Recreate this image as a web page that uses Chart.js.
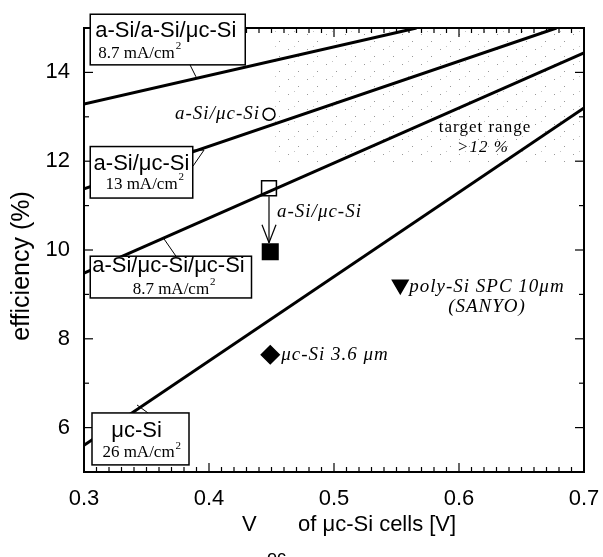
<!DOCTYPE html>
<html lang="en">
<head>
<meta charset="UTF-8">
<title>efficiency vs Voc</title>
<script src="https://cdn.jsdelivr.net/npm/chart.js"></script>
<style>
  html,body{margin:0;padding:0;background:#fff;}
</style>
</head>
<body>
<canvas id="effChart" width="603" height="557"></canvas>
<script>
// tick labels
const xTicks=[0.3,0.4,0.5,0.6,0.7];
const yTicks=[6,8,10,12,14];

// lines of constant current (end points)
const tripleAAX=[0.3,0.566];
const tripleAAY=[13.29,15.0];
const tandemX=[0.3,0.678];
const tandemY=[11.38,15.0];
const tripleAMX=[0.3,0.7];
const tripleAMY=[9.48,14.44];
const singleX=[0.3,0.7];
const singleY=[5.6,13.2];
const lineNames=['a-Si/a-Si/μc-Si','a-Si/μc-Si','a-Si/μc-Si/μc-Si','μc-Si'];
const lineCurrents=['8.7 mA/cm','13 mA/cm','8.7 mA/cm','26 mA/cm'];

// measured cells
const cellNames=['a-Si/μc-Si','a-Si/μc-Si (initial)','a-Si/μc-Si','μc-Si 3.6 μm','poly-Si SPC 10μm'];
const cellVoc=[0.448,0.448,0.449,0.449,0.553];
const cellEff=[13.06,11.39,9.96,7.64,9.22];

const SANS="'Liberation Sans', Arial, sans-serif";
const SERIF="'Liberation Serif', 'Times New Roman', serif";

function pts(xs,ys){return xs.map((v,i)=>({x:v,y:ys[i]}));}

function lineSet(label,xs,ys){
  return {label,data:pts(xs,ys),showLine:true,borderColor:'#000',borderWidth:3,pointRadius:0,fill:false};
}
function cellSet(i,style){
  return Object.assign({label:cellNames[i],data:[{x:cellVoc[i],y:cellEff[i]}],borderColor:'#000',borderWidth:1.5},style);
}

let stipple=null;
function getStipple(ctx){
  if(stipple) return stipple;
  const c=document.createElement('canvas');c.width=19;c.height=15;
  const g=c.getContext('2d');g.fillStyle='#999';
  g.fillRect(3,4,1,1);g.fillRect(13,11,1,1);g.fillStyle='#c4c4c4';g.fillRect(9,1,1,1);
  stipple=ctx.createPattern(c,'repeat');
  return stipple;
}

const deco={
  id:'deco',
  beforeDatasetsDraw(chart){
    const {ctx,chartArea:a,scales:{x,y}}=chart;
    const l=x.getPixelForValue(0.45),b=y.getPixelForValue(11.9);
    ctx.save();
    ctx.fillStyle=getStipple(ctx);
    ctx.fillRect(l,a.top,a.right-l,b-a.top);
    ctx.restore();
  },
  afterDatasetsDraw(chart){
    const {ctx,chartArea:a,scales:{x,y}}=chart;
    const X=v=>x.getPixelForValue(v), Y=v=>y.getPixelForValue(v);
    ctx.save();
    ctx.strokeStyle='#000';ctx.fillStyle='#000';
    const seg=(x0,y0,x1,y1)=>{ctx.beginPath();ctx.moveTo(x0,y0);ctx.lineTo(x1,y1);ctx.stroke();};

    // frame with inward ticks
    ctx.lineWidth=2;
    ctx.strokeRect(a.left,a.top,a.right-a.left,a.bottom-a.top);
    ctx.lineWidth=1.2;
    for(let i=0;i<=40;i++){
      const px=X(0.3+i*0.01),L=i%10===0?9:5;
      seg(px,a.bottom,px,a.bottom-L);seg(px,a.top,px,a.top+L);
    }
    for(let v=5;v<=15;v++){
      const py=Y(v),L=v%2===0?9:5;
      seg(a.left,py,a.left+L,py);seg(a.right,py,a.right-L,py);
    }

    // arrow from initial to degraded state
    ctx.lineWidth=1.2;
    const ax=X(cellVoc[1]);
    seg(ax,Y(cellEff[1])+8,ax,Y(cellEff[2])-9);
    seg(ax-7,Y(cellEff[2])-27,ax,Y(cellEff[2])-9);
    seg(ax+7,Y(cellEff[2])-27,ax,Y(cellEff[2])-9);

    // labelled boxes on the lines
    const current=(txt,cx,cy,align)=>{
      ctx.font='17px '+SERIF;ctx.textBaseline='middle';
      const w=ctx.measureText(txt).width+6;
      let lx=align==='left'?cx:cx-w/2;
      ctx.textAlign='left';ctx.fillText(txt,lx,cy);
      ctx.font='11px '+SERIF;ctx.fillText('2',lx+w-5,cy-7);
    };
    const box=(x0,y0,x1,y1)=>{
      const l=X(x0),t=Y(y0),r=X(x1),b=Y(y1);
      ctx.fillStyle='#fff';ctx.fillRect(l,t,r-l,b-t);
      ctx.lineWidth=1.5;ctx.strokeRect(l,t,r-l,b-t);
      ctx.fillStyle='#000';
      return {l,t,r,b};
    };
    ctx.lineWidth=1;
    // pointers
    seg(X(0.3848),Y(14.17),X(0.3896),Y(13.90));
    ctx.beginPath();ctx.moveTo(X(0.3872),Y(12.25));ctx.lineTo(X(0.396),Y(12.25));ctx.lineTo(X(0.3872),Y(11.89));ctx.stroke();
    seg(X(0.364),Y(10.25),X(0.3736),Y(9.86));
    seg(X(0.3424),Y(6.51),X(0.3512),Y(6.33));

    let r=box(0.305,15.31,0.429,14.17);
    ctx.font='22px '+SANS;ctx.textBaseline='middle';ctx.textAlign='left';
    ctx.fillText(lineNames[0],r.l+5,r.t+17);
    current(lineCurrents[0],r.l+8,r.t+39,'left');

    r=box(0.305,12.33,0.387,11.17);
    ctx.font='22px '+SANS;ctx.textAlign='center';
    ctx.fillText(lineNames[1],(r.l+r.r)/2,r.t+17);
    current(lineCurrents[1],(r.l+r.r)/2+3,r.t+38,'center');

    r=box(0.305,9.86,0.434,8.92);
    ctx.font='22px '+SANS;ctx.textAlign='left';
    ctx.fillText(lineNames[2],r.l+2,r.t+10);
    current(lineCurrents[2],(r.l+r.r)/2+3,r.t+33,'center');

    r=box(0.3064,6.33,0.384,5.16);
    ctx.font='22px '+SANS;ctx.textAlign='center';
    ctx.fillText(lineNames[3],(r.l+r.r)/2-4,r.t+18);
    current(lineCurrents[3],(r.l+r.r)/2+1,r.t+40,'center');

    // annotations
    ctx.fillStyle='#000';ctx.textBaseline='middle';
    ctx.letterSpacing='1px';
    ctx.font='italic 19px '+SERIF;
    ctx.textAlign='right';
    ctx.fillText(cellNames[0],X(cellVoc[0])-9,Y(cellEff[0]));
    ctx.textAlign='left';
    ctx.fillText(cellNames[2],ax+8,Y(10.86));
    ctx.fillText(cellNames[3],X(cellVoc[3])+11,Y(cellEff[3]));
    ctx.fillText(cellNames[4],X(cellVoc[4])+9,Y(cellEff[4])+2);
    ctx.textAlign='center';
    ctx.fillText('(SANYO)',X(0.6224),Y(8.72));
    ctx.font='17px '+SERIF;
    ctx.fillText('target range',X(0.6208),Y(12.75));
    ctx.font='italic 17px '+SERIF;
    ctx.fillText('>12 %',X(0.6192),Y(12.30));
    ctx.letterSpacing='0px';

    // axis titles
    ctx.font='25px '+SANS;ctx.textAlign='center';
    ctx.save();ctx.translate(22,(a.top+a.bottom)/2+16);ctx.rotate(-Math.PI/2);
    ctx.fillText('efficiency (%)',0,0);ctx.restore();
    ctx.textAlign='left';ctx.textBaseline='alphabetic';
    ctx.font='22px '+SANS;
    ctx.fillText('V',242,531);
    ctx.font='18px '+SANS;
    ctx.fillText('oc',267,563);
    ctx.font='22px '+SANS;
    ctx.fillText('of μc-Si cells [V]',298,531);
    ctx.restore();
  }
};

new Chart(document.getElementById('effChart'),{
  type:'scatter',
  data:{datasets:[
    lineSet(lineNames[0],tripleAAX,tripleAAY),
    lineSet(lineNames[1],tandemX,tandemY),
    lineSet(lineNames[2],tripleAMX,tripleAMY),
    lineSet(lineNames[3],singleX,singleY),
    cellSet(0,{pointStyle:'circle',pointRadius:6,backgroundColor:'#fff'}),
    cellSet(1,{pointStyle:'rect',pointRadius:10.5,backgroundColor:'#fff'}),
    cellSet(2,{pointStyle:'rect',pointRadius:11,backgroundColor:'#000'}),
    cellSet(3,{pointStyle:'rectRot',pointRadius:9,backgroundColor:'#000'}),
    cellSet(4,{pointStyle:'triangle',rotation:180,pointRadius:9,backgroundColor:'#000'})
  ]},
  options:{
    responsive:false,
    devicePixelRatio:1,
    animation:false,
    layout:{padding:{top:28,right:19,left:0,bottom:0}},
    plugins:{legend:{display:false},tooltip:{enabled:false}},
    scales:{
      x:{
        type:'linear',min:0.3,max:0.7,
        afterFit(s){s.height=85;s.paddingLeft=0;s.paddingRight=0;},
        grid:{display:false,drawTicks:false},border:{display:false},
        ticks:{stepSize:0.1,autoSkip:false,maxRotation:0,padding:14,color:'#000',
          font:{family:SANS,size:22},
          callback:v=>xTicks.some(t=>Math.abs(t-v)<1e-6)?v.toFixed(1):''}
      },
      y:{
        type:'linear',min:5,max:15,
        afterFit(s){s.width=84;s.paddingTop=0;s.paddingBottom=0;},
        grid:{display:false,drawTicks:false},border:{display:false},
        ticks:{stepSize:1,autoSkip:false,padding:14,color:'#000',
          font:{family:SANS,size:22},
          callback:v=>yTicks.includes(v)?String(v):''}
      }
    }
  },
  plugins:[deco]
});
</script>
</body>
</html>
